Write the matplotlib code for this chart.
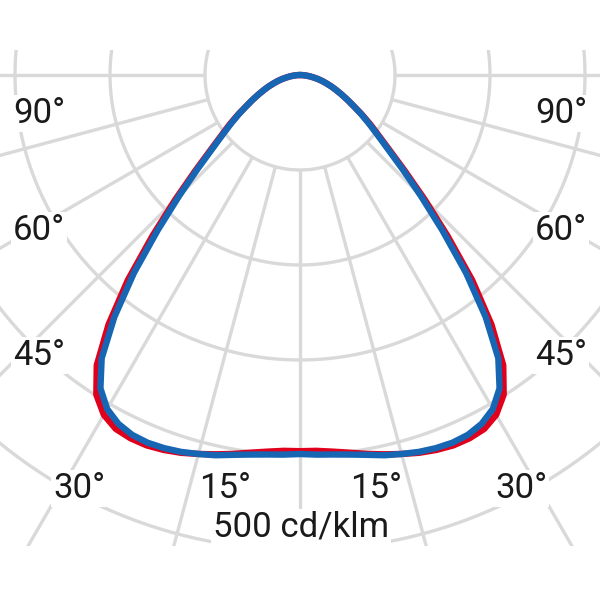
import numpy as np
import matplotlib
matplotlib.use("Agg")
import matplotlib.pyplot as plt
from matplotlib.patches import Rectangle

# luminous intensity, cd/klm, one half plane (curve is symmetric)
angles = [0, 2.5, 5, 7.5, 10, 12.5, 15, 17.5, 20, 22.5, 25, 27.5, 30, 32.5, 35,
          37.5, 40, 42.5, 45, 47.5, 50, 52.5, 55, 57.5, 60, 62.5, 65, 67.5, 70,
          72.5, 75, 77.5, 80, 82.5, 85, 87.5, 90]
blue_cd = [399, 400, 401, 403, 406, 410, 413, 416, 418, 419, 418, 414, 406, 391, 364,
           321, 272, 222, 180, 146, 120, 102, 88, 76, 65, 56, 48, 41, 35,
           29, 24, 19, 14, 10, 6, 3, 0]
red_cd = [396, 396, 398, 401, 405, 409, 413, 417, 420, 422, 422, 420, 413, 399, 373,
          331, 282, 230, 186, 150, 123, 104, 90, 77, 65, 56, 48, 41, 35,
          29, 24, 19, 14, 10, 6, 3, 0]

rings = [100, 200, 300, 400, 500]
spokes = [-90, -75, -60, -45, -30, -15, 0, 15, 30, 45, 60, 75, 90]
side_labels = ["90°", "60°", "45°"]
bottom_labels = ["30°", "15°", "15°", "30°"]
unit_label = "500 cd/klm"

GRID = "#d9d9d9"
BLUE = "#1766b3"
RED = "#e1001c"


def to_xy(theta_deg, r):
    t = np.radians(np.asarray(theta_deg, dtype=float))
    r = np.asarray(r, dtype=float)
    return r * np.sin(t), -r * np.cos(t)


def full_curve(vals):
    a = np.array(angles)
    v = np.array(vals)
    th = np.concatenate([-a[::-1], a[1:]])
    rr = np.concatenate([v[::-1], v[1:]])
    return to_xy(th, rr)


fig = plt.figure(figsize=(6, 6), dpi=100)
ax = fig.add_axes([0, 0, 1, 1])
ax.set_xlim(-315.8, 315.8)
ax.set_ylim(-552.6, 78.9)
ax.set_aspect("equal")
ax.axis("off")

clip = Rectangle((-400, -495.5), 800, 521.8, transform=ax.transData,
                 facecolor="none", edgecolor="none")
ax.add_patch(clip)

# grid rings
th = np.linspace(-180, 180, 721)
for r in rings:
    t = th
    if r == rings[-1]:
        t = th[np.abs(th) > 7.2]
        # draw as two pieces so there is no jump through the gap
        for part in (th[th > 7.2], th[th < -7.2]):
            x, y = to_xy(part, np.full(part.shape, r))
            ln, = ax.plot(x, y, color=GRID, lw=2.4, zorder=1)
            ln.set_clip_path(clip)
        continue
    x, y = to_xy(t, np.full(t.shape, r))
    ln, = ax.plot(x, y, color=GRID, lw=2.4, zorder=1)
    ln.set_clip_path(clip)

# grid spokes
for s in spokes:
    x, y = to_xy([s, s], [rings[0], 1000])
    ln, = ax.plot(x, y, color=GRID, lw=2.4, zorder=1, solid_capstyle="butt")
    ln.set_clip_path(clip)

# curves
xr, yr = full_curve(red_cd)
ax.plot(xr, yr, color=RED, lw=4.6, zorder=3, solid_joinstyle="round",
        solid_capstyle="round")
xb, yb = full_curve(blue_cd)
ax.plot(xb, yb, color=BLUE, lw=4.6, zorder=4, solid_joinstyle="round",
        solid_capstyle="round")

# labels (pixel positions: centre x, baseline y from top)
txt = dict(fontsize=25, family=["Roboto", "DejaVu Sans"], color="#1a1a1a",
           ha="center", va="baseline", transform=ax.transAxes, zorder=2,
           bbox=dict(facecolor="white", edgecolor="none", pad=1.5))
side_y = [123, 240, 365]
for lab, yy in zip(side_labels, side_y):
    ax.text(39 / 600, 1 - yy / 600, lab, **txt)
    ax.text(561 / 600, 1 - yy / 600, lab, **txt)
bottom_x = [79, 225, 376, 521]
for lab, xx in zip(bottom_labels, bottom_x):
    ax.text(xx / 600, 1 - 498 / 600, lab, **txt)
ax.text(301 / 600, 1 - 537 / 600, unit_label, **txt)

fig.savefig("out.png", dpi=100, facecolor="white")
